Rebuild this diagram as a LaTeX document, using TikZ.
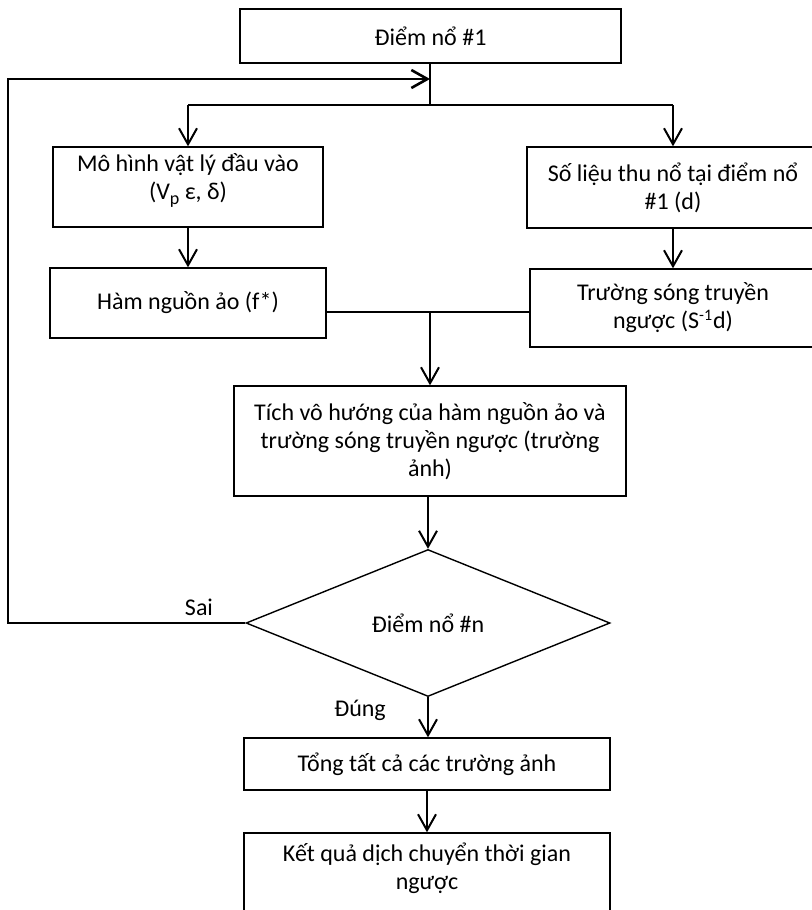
\documentclass[tikz,border=0pt]{standalone}
\usepackage{fontspec}
\setmainfont{Carlito}
\usetikzlibrary{arrows.meta,shapes.geometric}
\tikzset{
  block/.style={draw,rectangle,line width=0.7pt,align=center,inner sep=2pt,
                font=\fontsize{12}{14}\selectfont},
  decision/.style={draw,diamond,line width=0.7pt,inner sep=0pt,
                font=\fontsize{12}{14}\selectfont},
  tag/.style={font=\fontsize{12}{14}\selectfont,inner sep=1pt}
}

\begin{document}
\begin{tikzpicture}[x=0.5pt,y=-0.5pt]
    % Local styling definitions
    \tikzstyle{flow}=[-{Straight Barb[length=8pt,width=9pt]},line width=1pt]
    \tikzstyle{link}=[line width=0.7pt]
    \tikzstyle{back}=[-{Straight Barb[length=8pt,width=9pt]},line width=1.3pt]

    % Frame
    \useasboundingbox (0,0) rectangle (812,910);
    \clip (0,0) rectangle (812,910);

    % Blocks
    \node[block,minimum width=190.5pt,minimum height=27pt] (shot) at (430.5,36) {Điểm nổ \#1};
    \node[block,minimum width=135pt,minimum height=40pt] (model) at (188,187)
        {Mô hình vật lý đầu vào\\(V\raisebox{-0.45ex}{\small p} ε, δ)\\[-3pt]};
    \node[block,minimum width=146pt,minimum height=40.5pt] (data) at (673,187.5)
        {Số liệu thu nổ tại điểm nổ\\\#1 (d)};
    \node[block,minimum width=138pt,minimum height=35pt] (source) at (188,303) {Hàm nguồn ảo (f*)};
    \node[block,minimum width=143pt,minimum height=39pt] (backw) at (673,308)
        {Trường sóng truyền\\ngược (S\textsuperscript{-1}d)};
    \node[block,minimum width=196pt,minimum height=55pt] (image) at (430,441)
        {Tích vô hướng của hàm nguồn ảo và\\trường sóng truyền ngược (trường\\ảnh)};
    \node[decision,minimum width=182pt,minimum height=73.5pt] (last) at (428,623) {Điểm nổ \#n};
    \node[block,minimum width=183pt,minimum height=26pt] (stack) at (427,764) {Tổng tất cả các trường ảnh};
    \node[block,minimum width=183pt,minimum height=45pt,text depth=12pt] (rtm) at (427,878)
        {Kết quả dịch chuyển thời gian\\ngược};

    % Labels
    \node[tag] (no) at (199,607) {Sai};
    \node[tag] (yes) at (360,710) {Đúng};

    % Coordinates
    \coordinate (fork) at (430,105);
    \coordinate (loop) at (8,79);
    \coordinate (join) at (430,312);

    % Connectors
    \draw[link] (shot.south -| fork) -- (fork);
    \draw[link] (fork -| model.north) -- (fork -| data.north);
    \draw[flow] (fork -| model.north) -- (model.north);
    \draw[flow] (fork -| data.north) -- (data.north);
    \draw[flow] (model.south) -- (source.north);
    \draw[flow] (data.south) -- (backw.north);
    \draw[link] (join -| source.east) -- (join -| backw.west);
    \draw[flow] (join) -- (image.north -| join);
    \draw[flow] (image.south -| last.north) -- (last.north);
    \draw[flow] (last.south) -- (stack.north -| last.south);
    \draw[flow] (stack.south) -- (rtm.north);
    \draw[back] (last.west) -- (last.west -| loop) -- (loop) -- (loop -| fork);
\end{tikzpicture}
\end{document}
